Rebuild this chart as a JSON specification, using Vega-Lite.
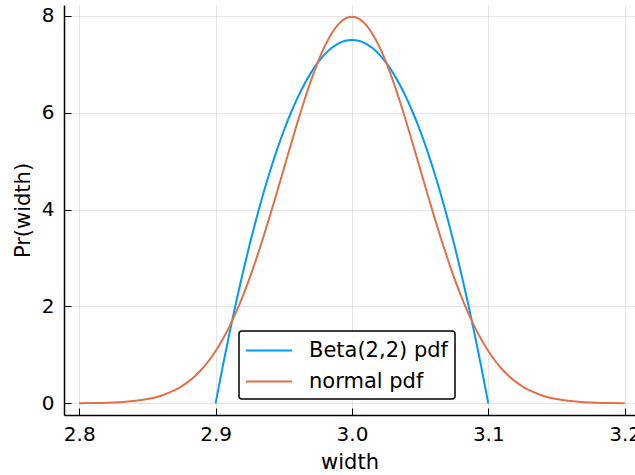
{
  "$schema": "https://vega.github.io/schema/vega-lite/v6.json",
  "autosize": {"type": "none"},
  "padding": {"left": 64, "top": 5, "right": 0, "bottom": 60},
  "width": 571,
  "height": 410,
  "background": "white",
  "data": {
    "values": [
      {"x": 2.9, "y": 0, "series": "Beta(2,2) pdf"},
      {"x": 2.905, "y": 0.73125, "series": "Beta(2,2) pdf"},
      {"x": 2.91, "y": 1.425, "series": "Beta(2,2) pdf"},
      {"x": 2.915, "y": 2.08125, "series": "Beta(2,2) pdf"},
      {"x": 2.92, "y": 2.7, "series": "Beta(2,2) pdf"},
      {"x": 2.925, "y": 3.28125, "series": "Beta(2,2) pdf"},
      {"x": 2.93, "y": 3.825, "series": "Beta(2,2) pdf"},
      {"x": 2.935, "y": 4.33125, "series": "Beta(2,2) pdf"},
      {"x": 2.94, "y": 4.8, "series": "Beta(2,2) pdf"},
      {"x": 2.945, "y": 5.23125, "series": "Beta(2,2) pdf"},
      {"x": 2.95, "y": 5.625, "series": "Beta(2,2) pdf"},
      {"x": 2.955, "y": 5.98125, "series": "Beta(2,2) pdf"},
      {"x": 2.96, "y": 6.3, "series": "Beta(2,2) pdf"},
      {"x": 2.965, "y": 6.58125, "series": "Beta(2,2) pdf"},
      {"x": 2.97, "y": 6.825, "series": "Beta(2,2) pdf"},
      {"x": 2.975, "y": 7.03125, "series": "Beta(2,2) pdf"},
      {"x": 2.98, "y": 7.2, "series": "Beta(2,2) pdf"},
      {"x": 2.985, "y": 7.33125, "series": "Beta(2,2) pdf"},
      {"x": 2.99, "y": 7.425, "series": "Beta(2,2) pdf"},
      {"x": 2.995, "y": 7.48125, "series": "Beta(2,2) pdf"},
      {"x": 3.0, "y": 7.5, "series": "Beta(2,2) pdf"},
      {"x": 3.005, "y": 7.48125, "series": "Beta(2,2) pdf"},
      {"x": 3.01, "y": 7.425, "series": "Beta(2,2) pdf"},
      {"x": 3.015, "y": 7.33125, "series": "Beta(2,2) pdf"},
      {"x": 3.02, "y": 7.2, "series": "Beta(2,2) pdf"},
      {"x": 3.025, "y": 7.03125, "series": "Beta(2,2) pdf"},
      {"x": 3.03, "y": 6.825, "series": "Beta(2,2) pdf"},
      {"x": 3.035, "y": 6.58125, "series": "Beta(2,2) pdf"},
      {"x": 3.04, "y": 6.3, "series": "Beta(2,2) pdf"},
      {"x": 3.045, "y": 5.98125, "series": "Beta(2,2) pdf"},
      {"x": 3.05, "y": 5.625, "series": "Beta(2,2) pdf"},
      {"x": 3.055, "y": 5.23125, "series": "Beta(2,2) pdf"},
      {"x": 3.06, "y": 4.8, "series": "Beta(2,2) pdf"},
      {"x": 3.065, "y": 4.33125, "series": "Beta(2,2) pdf"},
      {"x": 3.07, "y": 3.825, "series": "Beta(2,2) pdf"},
      {"x": 3.075, "y": 3.28125, "series": "Beta(2,2) pdf"},
      {"x": 3.08, "y": 2.7, "series": "Beta(2,2) pdf"},
      {"x": 3.085, "y": 2.08125, "series": "Beta(2,2) pdf"},
      {"x": 3.09, "y": 1.425, "series": "Beta(2,2) pdf"},
      {"x": 3.095, "y": 0.73125, "series": "Beta(2,2) pdf"},
      {"x": 3.1, "y": 0, "series": "Beta(2,2) pdf"},

      {"x": 2.8, "y": 0.00268, "series": "normal pdf"},
      {"x": 2.81, "y": 0.00584, "series": "normal pdf"},
      {"x": 2.82, "y": 0.01224, "series": "normal pdf"},
      {"x": 2.83, "y": 0.02465, "series": "normal pdf"},
      {"x": 2.84, "y": 0.04768, "series": "normal pdf"},
      {"x": 2.85, "y": 0.08864, "series": "normal pdf"},
      {"x": 2.86, "y": 0.1583, "series": "normal pdf"},
      {"x": 2.87, "y": 0.2717, "series": "normal pdf"},
      {"x": 2.875, "y": 0.3506, "series": "normal pdf"},
      {"x": 2.88, "y": 0.4479, "series": "normal pdf"},
      {"x": 2.885, "y": 0.5665, "series": "normal pdf"},
      {"x": 2.89, "y": 0.7095, "series": "normal pdf"},
      {"x": 2.895, "y": 0.8797, "series": "normal pdf"},
      {"x": 2.9, "y": 1.08, "series": "normal pdf"},
      {"x": 2.905, "y": 1.312, "series": "normal pdf"},
      {"x": 2.91, "y": 1.579, "series": "normal pdf"},
      {"x": 2.915, "y": 1.881, "series": "normal pdf"},
      {"x": 2.92, "y": 2.218, "series": "normal pdf"},
      {"x": 2.925, "y": 2.59, "series": "normal pdf"},
      {"x": 2.93, "y": 2.995, "series": "normal pdf"},
      {"x": 2.935, "y": 3.427, "series": "normal pdf"},
      {"x": 2.94, "y": 3.884, "series": "normal pdf"},
      {"x": 2.945, "y": 4.357, "series": "normal pdf"},
      {"x": 2.95, "y": 4.839, "series": "normal pdf"},
      {"x": 2.955, "y": 5.322, "series": "normal pdf"},
      {"x": 2.96, "y": 5.794, "series": "normal pdf"},
      {"x": 2.965, "y": 6.245, "series": "normal pdf"},
      {"x": 2.97, "y": 6.664, "series": "normal pdf"},
      {"x": 2.975, "y": 7.041, "series": "normal pdf"},
      {"x": 2.98, "y": 7.365, "series": "normal pdf"},
      {"x": 2.985, "y": 7.628, "series": "normal pdf"},
      {"x": 2.99, "y": 7.821, "series": "normal pdf"},
      {"x": 2.995, "y": 7.939, "series": "normal pdf"},
      {"x": 3.0, "y": 7.979, "series": "normal pdf"},
      {"x": 3.005, "y": 7.939, "series": "normal pdf"},
      {"x": 3.01, "y": 7.821, "series": "normal pdf"},
      {"x": 3.015, "y": 7.628, "series": "normal pdf"},
      {"x": 3.02, "y": 7.365, "series": "normal pdf"},
      {"x": 3.025, "y": 7.041, "series": "normal pdf"},
      {"x": 3.03, "y": 6.664, "series": "normal pdf"},
      {"x": 3.035, "y": 6.245, "series": "normal pdf"},
      {"x": 3.04, "y": 5.794, "series": "normal pdf"},
      {"x": 3.045, "y": 5.322, "series": "normal pdf"},
      {"x": 3.05, "y": 4.839, "series": "normal pdf"},
      {"x": 3.055, "y": 4.357, "series": "normal pdf"},
      {"x": 3.06, "y": 3.884, "series": "normal pdf"},
      {"x": 3.065, "y": 3.427, "series": "normal pdf"},
      {"x": 3.07, "y": 2.995, "series": "normal pdf"},
      {"x": 3.075, "y": 2.59, "series": "normal pdf"},
      {"x": 3.08, "y": 2.218, "series": "normal pdf"},
      {"x": 3.085, "y": 1.881, "series": "normal pdf"},
      {"x": 3.09, "y": 1.579, "series": "normal pdf"},
      {"x": 3.095, "y": 1.312, "series": "normal pdf"},
      {"x": 3.1, "y": 1.08, "series": "normal pdf"},
      {"x": 3.105, "y": 0.8797, "series": "normal pdf"},
      {"x": 3.11, "y": 0.7095, "series": "normal pdf"},
      {"x": 3.115, "y": 0.5665, "series": "normal pdf"},
      {"x": 3.12, "y": 0.4479, "series": "normal pdf"},
      {"x": 3.125, "y": 0.3506, "series": "normal pdf"},
      {"x": 3.13, "y": 0.2717, "series": "normal pdf"},
      {"x": 3.14, "y": 0.1583, "series": "normal pdf"},
      {"x": 3.15, "y": 0.08864, "series": "normal pdf"},
      {"x": 3.16, "y": 0.04768, "series": "normal pdf"},
      {"x": 3.17, "y": 0.02465, "series": "normal pdf"},
      {"x": 3.18, "y": 0.01224, "series": "normal pdf"},
      {"x": 3.19, "y": 0.00584, "series": "normal pdf"},
      {"x": 3.2, "y": 0.00268, "series": "normal pdf"}
    ]
  },
  "mark": {"type": "line", "strokeWidth": 2, "interpolate": "monotone"},
  "encoding": {
    "x": {
      "field": "x", "type": "quantitative", "title": "width",
      "scale": {"domain": [2.7888, 3.2076], "nice": false, "zero": false},
      "axis": {"values": [2.8, 2.9, 3.0, 3.1, 3.2], "format": ".1f", "labelPadding": 16, "titlePadding": 7}
    },
    "y": {
      "field": "y", "type": "quantitative", "title": "Pr(width)",
      "scale": {"domain": [-0.24, 8.22], "nice": false, "zero": false},
      "axis": {"values": [0, 2, 4, 6, 8], "labelPadding": 17, "titlePadding": 8}
    },
    "color": {
      "field": "series", "type": "nominal",
      "scale": {"domain": ["Beta(2,2) pdf", "normal pdf"], "range": ["#009AFA", "#E36F47"]},
      "legend": {
        "title": null, "orient": "none", "legendX": 175, "legendY": 326,
        "symbolType": "M-1.087,0H2.913", "symbolSize": 529, "symbolStrokeWidth": 2,
        "labelOffset": 38, "rowPadding": 8, "padding": 7,
        "strokeColor": "black", "fillColor": "white", "cornerRadius": 3
      }
    }
  },
  "config": {
    "font": "DejaVu Sans",
    "view": {"stroke": null},
    "axis": {
      "domainColor": "black", "domainWidth": 1.5,
      "tickColor": "black", "tickSize": -7, "tickWidth": 1,
      "gridColor": "black", "gridOpacity": 0.1, "gridWidth": 1,
      "labelFontSize": 20, "labelColor": "black",
      "titleFontSize": 21, "titleFontWeight": "normal", "titleColor": "black"
    },
    "legend": {
      "labelFontSize": 21, "labelColor": "black", "strokeWidth": 1.5, "labelLimit": 400
    }
  }
}
